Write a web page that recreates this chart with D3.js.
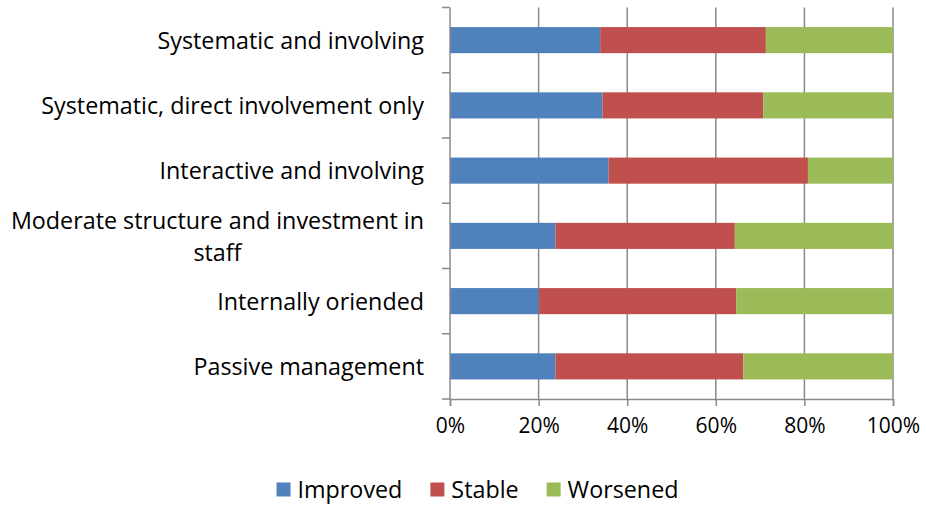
<!DOCTYPE html>
<html>
<head>
<meta charset="utf-8">
<script src="https://cdn.jsdelivr.net/npm/d3@7"></script>
<style>
  html, body { margin: 0; padding: 0; background: #fff; }
  svg { display: block; }
  text { font-family: "Open Sans", "DejaVu Sans", sans-serif; fill: #000; }
</style>
</head>
<body>
<svg id="chart" width="926" height="507"></svg>
<script>
const categories = [
  "Systematic and involving",
  "Systematic, direct involvement only",
  "Interactive and involving",
  "Moderate structure and investment in staff",
  "Internally oriended",
  "Passive management"
];
const seriesNames = ["Improved", "Stable", "Worsened"];
const improved = [33.9, 34.4, 35.8, 23.8, 20.1, 23.8];
const stable   = [37.4, 36.3, 45.0, 40.5, 44.5, 42.4];
const worsened = [28.7, 29.3, 19.2, 35.7, 35.4, 33.8];
const colors = ["#4F81BD", "#C0504D", "#9BBB59"];
const xTicks = [0, 0.2, 0.4, 0.6, 0.8, 1.0];

const svg = d3.select("#chart");
const tickFont = 21;
const labelFont = 23.3;

const rows = categories.map((c, i) => {
  const total = improved[i] + stable[i] + worsened[i];
  return { cat: c, Improved: improved[i] / total, Stable: stable[i] / total, Worsened: worsened[i] / total };
});
const stacked = d3.stack().keys(seriesNames)(rows);

const x = d3.scaleLinear().domain([0, 1]).range([450, 893]);
const y = d3.scaleBand().domain(categories).range([7.5, 399]).paddingInner(0.6).paddingOuter(0.3);
const gridColor = "#8a8a8a";

// vertical gridlines
svg.append("g").selectAll("line").data(xTicks.slice(1)).join("line")
  .attr("x1", d => x(d)).attr("x2", d => x(d))
  .attr("y1", 7.5).attr("y2", 399)
  .attr("stroke", gridColor).attr("stroke-width", 1.5);

// bars
svg.append("g").selectAll("g").data(stacked).join("g")
  .attr("fill", (d, i) => colors[i])
  .selectAll("rect").data(d => d).join("rect")
  .attr("x", d => x(d[0]))
  .attr("width", d => x(d[1]) - x(d[0]))
  .attr("y", d => y(d.data.cat))
  .attr("height", y.bandwidth());

// left axis (line + ticks at band boundaries)
const step = y.step();
const yStart = 7.5;
const boundaries = d3.range(categories.length + 1).map(i => yStart + i * step);
svg.append("line").attr("x1", 450).attr("x2", 450).attr("y1", 7.5).attr("y2", 399)
  .attr("stroke", gridColor).attr("stroke-width", 1.5);
svg.append("g").selectAll("line").data(boundaries).join("line")
  .attr("x1", 442).attr("x2", 450).attr("y1", d => d).attr("y2", d => d)
  .attr("stroke", gridColor).attr("stroke-width", 1.5);

// bottom axis
const xAxis = d3.axisBottom(x).tickValues(xTicks).tickFormat(d3.format(".0%")).tickSize(7).tickPadding(12);
const gx = svg.append("g").attr("transform", "translate(0,399)").call(xAxis);
gx.select(".domain").attr("stroke", gridColor).attr("stroke-width", 1.5);
gx.selectAll(".tick line").attr("stroke", gridColor).attr("stroke-width", 1.5);
gx.selectAll(".tick text").attr("font-size", tickFont).attr("font-family", "Open Sans").attr("fill", "#000");

// category labels with wrapping
const labelRight = 424;
const maxWidth = 425;
const lineH = 32;
const labels = svg.append("g");
categories.forEach(c => {
  const cy = y(c) + y.bandwidth() / 2;
  const words = c.split(" ");
  const lines = [];
  let cur = [];
  const probe = svg.append("text").attr("font-size", labelFont);
  words.forEach(w => {
    const test = cur.concat([w]).join(" ");
    probe.text(test);
    if (probe.node().getComputedTextLength() > maxWidth && cur.length) {
      lines.push(cur.join(" "));
      cur = [w];
    } else cur.push(w);
  });
  lines.push(cur.join(" "));
  let widest = 0;
  lines.forEach(l => { probe.text(l); widest = Math.max(widest, probe.node().getComputedTextLength()); });
  probe.remove();
  const cx = labelRight - widest / 2;
  const top = lines.length > 1 ? cy - 15 : cy;
  lines.forEach((l, k) => {
    labels.append("text").attr("font-size", labelFont)
      .attr("x", cx).attr("y", top + k * lineH).attr("dy", "0.36em")
      .attr("text-anchor", "middle").text(l);
  });
});

// legend
const legend = svg.append("g");
let lx = 0;
seriesNames.forEach((s, i) => {
  const g = legend.append("g").attr("transform", `translate(${lx},0)`);
  g.append("rect").attr("x", 0).attr("y", -7).attr("width", 14).attr("height", 14).attr("fill", colors[i]);
  const tt = g.append("text").attr("x", 21).attr("y", 0).attr("dy", "0.36em").attr("font-size", labelFont).text(s);
  const w = tt.node().getComputedTextLength();
  lx += 21 + w + 28;
});
const totalW = lx - 28;
legend.attr("transform", `translate(${477.5 - totalW / 2},489.5)`);
</script>
</body>
</html>
